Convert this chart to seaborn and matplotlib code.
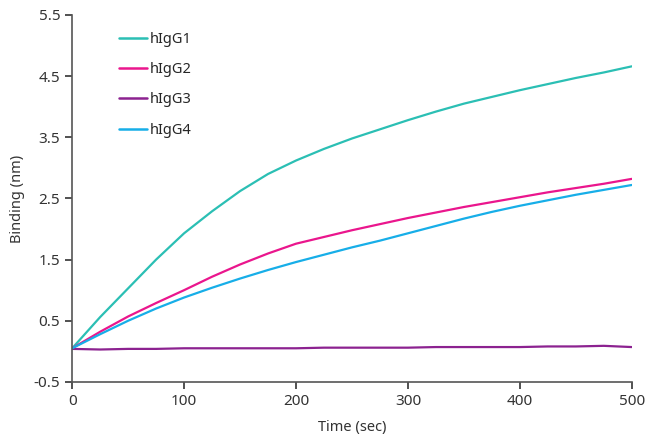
import pandas as pd
import matplotlib.pyplot as plt
import seaborn as sns

# binding curves, every 25 sec
time = [0, 25, 50, 75, 100, 125, 150, 175, 200, 225, 250,
        275, 300, 325, 350, 375, 400, 425, 450, 475, 500]
higg1 = [0.05, 0.56, 1.03, 1.50, 1.93, 2.29, 2.62, 2.90, 3.12, 3.31, 3.48,
         3.63, 3.78, 3.92, 4.05, 4.16, 4.27, 4.37, 4.47, 4.56, 4.66]
higg2 = [0.05, 0.32, 0.57, 0.79, 1.00, 1.22, 1.42, 1.60, 1.76, 1.87, 1.98,
         2.08, 2.18, 2.27, 2.36, 2.44, 2.52, 2.60, 2.67, 2.74, 2.82]
higg3 = [0.04, 0.03, 0.04, 0.04, 0.05, 0.05, 0.05, 0.05, 0.05, 0.06, 0.06,
         0.06, 0.06, 0.07, 0.07, 0.07, 0.07, 0.08, 0.08, 0.09, 0.07]
higg4 = [0.05, 0.28, 0.50, 0.70, 0.88, 1.04, 1.19, 1.33, 1.46, 1.58, 1.70,
         1.81, 1.93, 2.05, 2.17, 2.28, 2.38, 2.47, 2.56, 2.64, 2.72]

groups = ['hIgG1', 'hIgG2', 'hIgG3', 'hIgG4']
colors = ['#2bbfb4', '#ea168d', '#8c2290', '#17aee8']

df = pd.DataFrame({'Time': time * 4,
                   'Binding': higg1 + higg2 + higg3 + higg4,
                   'Sample': [g for g in groups for _ in time]})

sns.set_style('ticks')
plt.rcParams['font.family'] = ['Noto Sans', 'DejaVu Sans']
plt.rcParams['axes.unicode_minus'] = False

fig = plt.figure(figsize=(6.5, 4.4), dpi=100)
ax = fig.add_axes([0.111, 0.132, 0.861, 0.834])
sns.lineplot(data=df, x='Time', y='Binding', hue='Sample', palette=colors,
             linewidth=1.6, ax=ax)

ax.set_xlim(0, 500)
ax.set_ylim(-0.5, 5.5)
ax.set_xticks([0, 100, 200, 300, 400, 500])
ax.set_yticks([-0.5, 0.5, 1.5, 2.5, 3.5, 4.5, 5.5])
ax.set_xlabel('Time (sec)', fontsize=10.5, color='#333333', labelpad=8)
ax.set_ylabel('Binding (nm)', fontsize=10.5, color='#333333', labelpad=6)
ax.tick_params(labelsize=11, colors='#333333', length=5, width=1.2)
for s in ['left', 'bottom']:
    ax.spines[s].set_color('#555555')
    ax.spines[s].set_linewidth(1.2)
sns.despine(ax=ax)

leg = ax.legend(loc='upper left', bbox_to_anchor=(0.06, 0.99), frameon=False,
                fontsize=10.5, handlelength=1.9, handletextpad=0.25,
                labelspacing=1.05)
for line in leg.get_lines():
    line.set_linewidth(1.8)

fig.savefig('out.png', dpi=100)
